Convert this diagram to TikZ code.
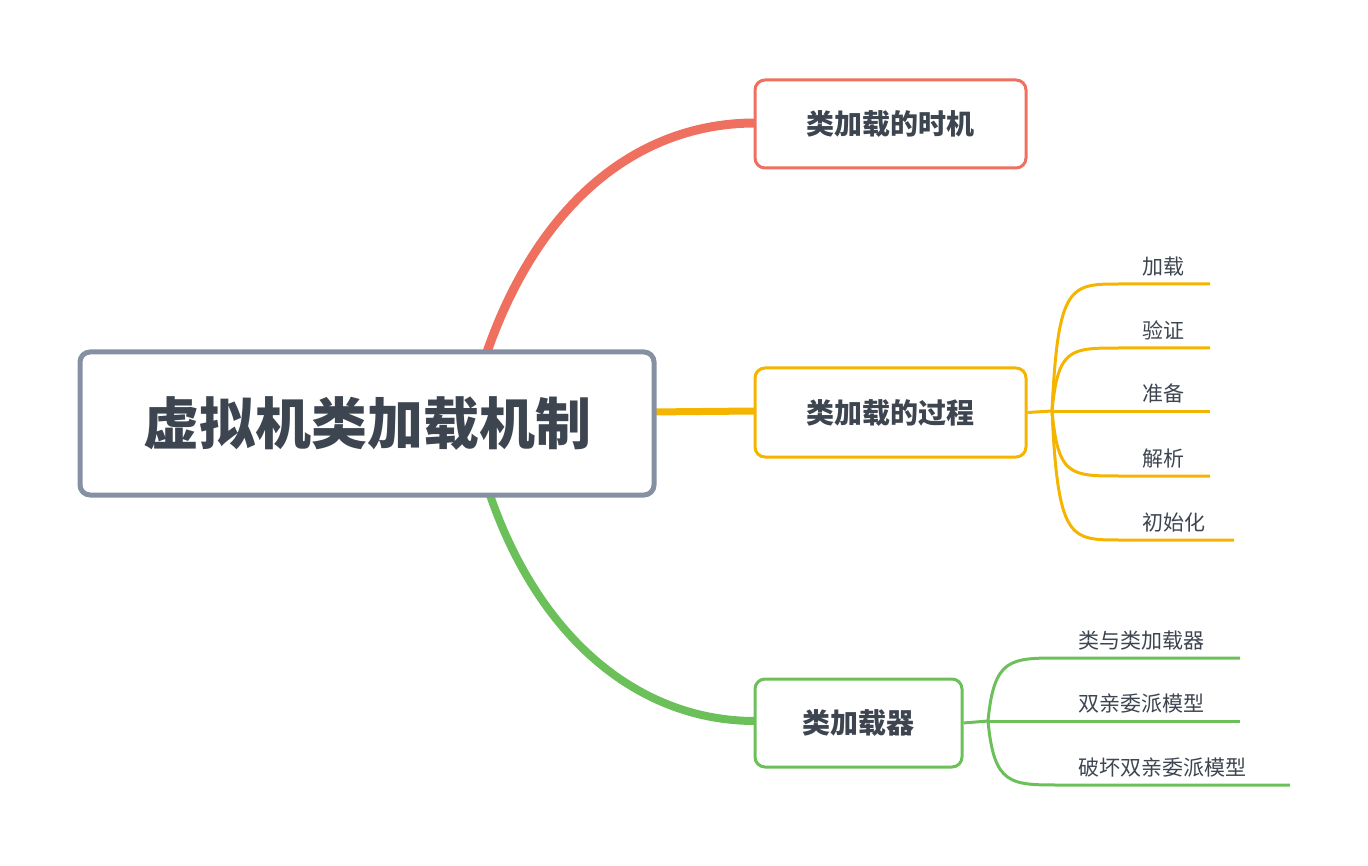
\documentclass[tikz,border=0pt]{standalone}
\usepackage{fontspec}
\setmainfont{Noto Sans CJK SC}
\definecolor{cr}{HTML}{F07060}
\definecolor{co}{HTML}{F5B400}
\definecolor{cg}{HTML}{6CC05A}
\definecolor{cb}{HTML}{8690A3}
\definecolor{tx}{HTML}{3D4550}
\tikzset{
 box/.style={draw, rounded corners=10pt, line width=3pt, fill=white, text=tx, font=\bfseries\fontsize{28}{32}\selectfont, inner sep=0pt},
 leaf/.style={text=tx, font=\fontsize{21}{24}\selectfont, anchor=south west, inner sep=2pt},
 br/.style={line width=3pt}
}
\begin{document}
\begin{tikzpicture}[x=1pt,y=-1pt]
\useasboundingbox (0,0) rectangle (1368,866);
% main connectors
\coordinate (r1) at (487,352);
\coordinate (r3) at (490,495);
\draw[cr, line width=9pt] (r1) .. controls (540,200) and (640,123) .. (755,123);
\draw[cg, line width=8pt] (r3) .. controls (540,640) and (640,721) .. (755,721);
\draw[co, line width=7pt] (650,412) -- (755,411);
\node[box, draw=cb, line width=5pt, minimum width=574pt, minimum height=143pt, font=\bfseries\fontsize{56}{60}\selectfont] (root) at (367,423.5) {虚拟机类加载机制};
\node[box, draw=cr, minimum width=271pt, minimum height=88pt] (a) at (890.5,124) {类加载的时机};
\node[box, draw=co, minimum width=271pt, minimum height=89pt] (b) at (890.5,412.5) {类加载的过程};
\node[box, draw=cg, minimum width=207pt, minimum height=88pt] (c) at (858.5,723) {类加载器};
% orange children
\coordinate (bp) at (1052,411);
\draw[co,br] (b.east) -- (bp);
\foreach \y/\e/\t [count=\i] in {284/1210/加载,348/1210/验证,411/1210/准备,476/1210/解析,540/1234/初始化}{
  \coordinate (ob\i) at (1120,\y);
  \coordinate (oe\i) at (\e,\y);
  \draw[co,br] (bp) .. controls (1058,\y) and (1070,\y) .. (ob\i) -- (oe\i);
  \node[leaf] (ol\i) at (1140,\y-6) {\t};
}
% green children
\coordinate (gp) at (988,721);
\draw[cg,br] (c.east) -- (gp);
\foreach \y/\e/\t [count=\i] in {658/1240/类与类加载器,721/1240/双亲委派模型,785/1290/破坏双亲委派模型}{
  \coordinate (gb\i) at (1060,\y);
  \coordinate (ge\i) at (\e,\y);
  \draw[cg,br] (gp) .. controls (994,\y) and (1010,\y) .. (gb\i) -- (ge\i);
  \node[leaf] (gl\i) at (1076,\y-6) {\t};
}
\end{tikzpicture}
\end{document}
